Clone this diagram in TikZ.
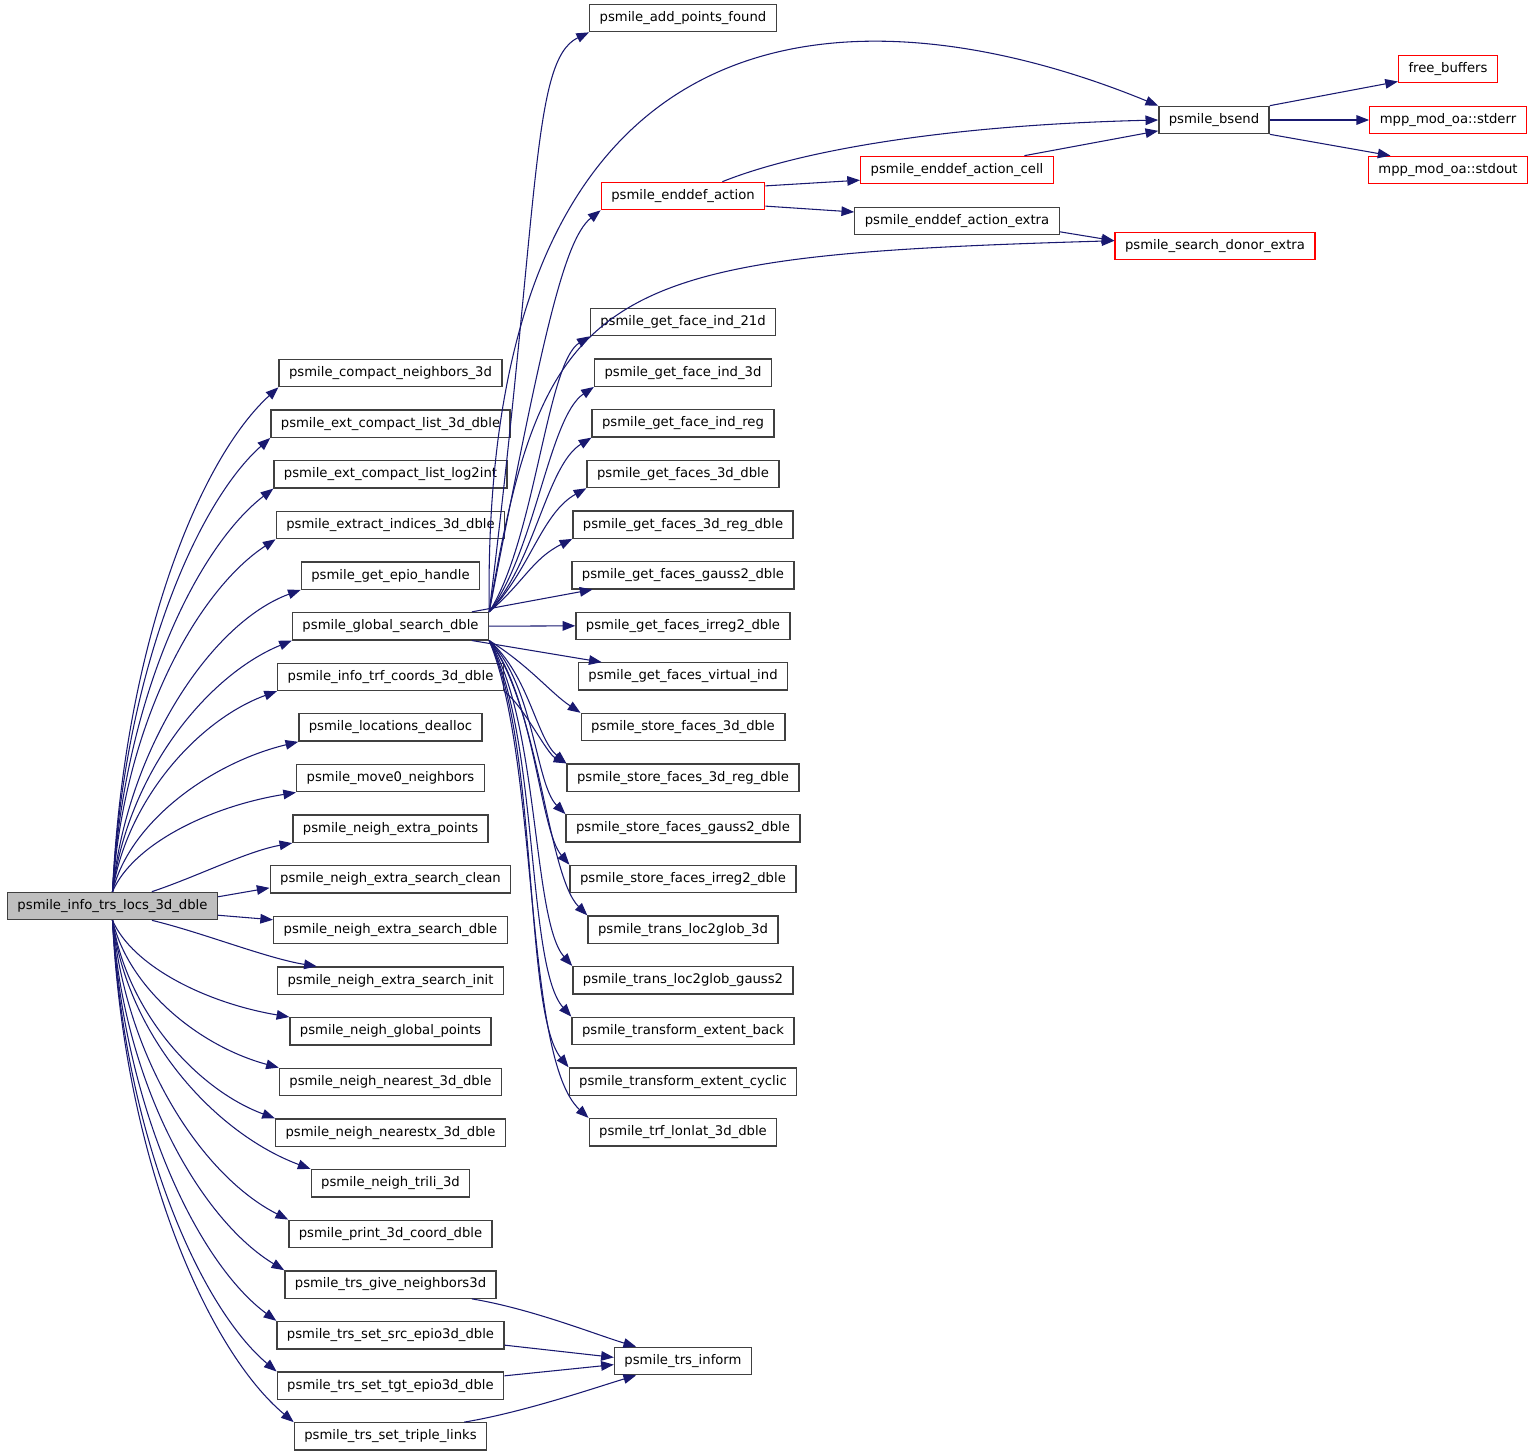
\documentclass[tikz,border=0pt]{standalone}
\usepackage{fontspec}
\setmainfont{DejaVu Sans}
\usetikzlibrary{arrows.meta}
\definecolor{callblue}{HTML}{191970}
\definecolor{rootgray}{HTML}{BFBFBF}
\definecolor{boxgray}{HTML}{404040}

\begin{document}
\begin{tikzpicture}[x=0.75pt,y=-0.75pt,
	fn/.style={draw=boxgray, line width=1pt, fill=white, inner xsep=7.5pt, inner ysep=0pt, minimum height=20.5pt, font=\fontsize{9.9pt}{12pt}\selectfont},
	ext/.style={fn, draw=red},
	call/.style={draw=callblue, line width=0.8pt, -{Triangle[length=9.5pt,width=7.2pt]}}]
	\useasboundingbox (0,0) rectangle (1536,1456);
	\node[fn, fill=rootgray] (root) at (112.5,906) {psmile\_info\_trs\_locs\_3d\_dble};
	% first column of callees
	\foreach \nm/\txt [count=\k from 0] in {cmpn/psmile\_compact\_neighbors\_3d, ecl3/psmile\_ext\_compact\_list\_3d\_dble,
		ecll/psmile\_ext\_compact\_list\_log2int, xind/psmile\_extract\_indices\_3d\_dble, epio/psmile\_get\_epio\_handle,
		gsd/psmile\_global\_search\_dble, itrf/psmile\_info\_trf\_coords\_3d\_dble, ldea/psmile\_locations\_dealloc,
		mvn/psmile\_move0\_neighbors, nxp/psmile\_neigh\_extra\_points, nxc/psmile\_neigh\_extra\_search\_clean,
		nxd/psmile\_neigh\_extra\_search\_dble, nxi/psmile\_neigh\_extra\_search\_init, ngp/psmile\_neigh\_global\_points,
		nn3/psmile\_neigh\_nearest\_3d\_dble, nnx/psmile\_neigh\_nearestx\_3d\_dble, ntri/psmile\_neigh\_trili\_3d,
		p3d/psmile\_print\_3d\_coord\_dble, tgn/psmile\_trs\_give\_neighbors3d, tsrc/psmile\_trs\_set\_src\_epio3d\_dble,
		ttgt/psmile\_trs\_set\_tgt\_epio3d\_dble, ttri/psmile\_trs\_set\_triple\_links}
		\node[fn] (\nm) at (390.5,373+50.64*\k) {\txt};
	% second column
	\node[fn] (apf) at (683,18) {psmile\_add\_points\_found};
	\node[ext] (eda) at (683,196) {psmile\_enddef\_action};
	\foreach \nm/\txt [count=\k from 0] in {fi21/psmile\_get\_face\_ind\_21d, fi3/psmile\_get\_face\_ind\_3d,
		fir/psmile\_get\_face\_ind\_reg, gf3/psmile\_get\_faces\_3d\_dble, gf3r/psmile\_get\_faces\_3d\_reg\_dble,
		gfg/psmile\_get\_faces\_gauss2\_dble, gfi/psmile\_get\_faces\_irreg2\_dble, gfv/psmile\_get\_faces\_virtual\_ind,
		sf3/psmile\_store\_faces\_3d\_dble, sf3r/psmile\_store\_faces\_3d\_reg\_dble, sfg/psmile\_store\_faces\_gauss2\_dble,
		sfi/psmile\_store\_faces\_irreg2\_dble, tl3/psmile\_trans\_loc2glob\_3d, tlg/psmile\_trans\_loc2glob\_gauss2,
		teb/psmile\_transform\_extent\_back, tec/psmile\_transform\_extent\_cyclic, tll/psmile\_trf\_lonlat\_3d\_dble}
		\node[fn] (\nm) at (683,322+50.64*\k) {\txt};
	\node[fn] (tinf) at (683,1361) {psmile\_trs\_inform};
	% right part
	\node[ext] (edac) at (957,170) {psmile\_enddef\_action\_cell};
	\node[fn] (edax) at (957,221) {psmile\_enddef\_action\_extra};
	\node[fn] (bsend) at (1214,120) {psmile\_bsend};
	\node[ext] (sdex) at (1215,246) {psmile\_search\_donor\_extra};
	\node[ext] (fbuf) at (1448,69) {free\_buffers};
	\node[ext] (oerr) at (1448,120) {mpp\_mod\_oa::stderr};
	\node[ext] (oout) at (1448,170) {mpp\_mod\_oa::stdout};
	% calls from the root
	\foreach \nm/\sa/\ea/\ax/\ay/\bx/\by in {cmpn/north/south west/12/-250/-78/71, ecl3/north/south west/12/-225/-72/64,
		ecll/north/south west/12/-200/-74/57, xind/north/south west/12/-175/-75/49, epio/north/south west/15/-145/-88/32,
		gsd/north/south west/15/-118/-85/35, itrf/north/south west/15/-94/-77/28, ldea/north/south west/17/-70/-87/21,
		mvn/north/south west/20/-47/-87/14, nxp/20/south west/45/-15/-45/8, nxi/-20/169/50/12/-50/-8,
		ngp/south/north west/20/46/-83/-14, nn3/south/north west/17/70/-78/-21, nnx/south/north west/15/94/-76/-28,
		ntri/south/north west/15/118/-94/-35, p3d/south/north west/15/145/-83/-42, tgn/south/north west/12/170/-81/-49,
		tsrc/south/north west/12/195/-76/-56, ttgt/south/north west/12/220/-75/-63, ttri/south/north west/12/245/-84/-70}
		\draw[call] (root.\sa) .. controls +(\ax,\ay) and +(\bx,\by) .. (\nm.\ea);
	\draw[call] (root.5) -- (nxc.184);
	\draw[call] (root.-5) -- (nxd.175);
	% calls from psmile_global_search_dble
	\foreach \nm/\sa/\ea/\ax/\ay/\bx/\by in {apf/north east/south west/51/-412/-58/28, bsend/north east/north west/-9/-662/-258/-106,
		eda/north east/south west/51/-262/-38/30, sdex/north east/177/56/-332/-513/15,
		fi21/north east/south west/46/-72/-43/27, fi3/north east/south west/46/-60/-45/30, fir/north east/south west/46/-50/-45/28,
		gf3/north east/south west/40/-40/-45/25, gf3r/north east/south west/35/-30/-40/20,
		sf3/south east/north west/40/25/-30/-20, sf3r/south east/north west/40/35/-30/-25, sfg/south east/north west/45/45/-30/-30,
		sfi/south east/north west/45/55/-30/-35, tl3/south east/north west/50/65/-40/-40, tlg/south east/north west/50/80/-40/-45,
		teb/south east/north west/50/95/-45/-50, tec/south east/north west/50/105/-45/-55, tll/south east/north west/50/120/-65/-60}
		\draw[call] (gsd.\sa) .. controls +(\ax,\ay) and +(\bx,\by) .. (\nm.\ea);
	\draw[call] (gsd.10) -- (gfg.189);
	\draw[call] (gsd.east) -- (gfi.west);
	\draw[call] (gsd.-10) -- (gfv.170);
	\draw[call] (itrf.south east) .. controls +(20,15) and +(-20,-10) .. (sf3r.north west);
	% enddef and send
	\draw[call] (eda.20) .. controls +(80,-32) and +(-208,5) .. (bsend.west);
	\draw[call] (eda.7) -- (edac.186);
	\draw[call] (eda.-7) -- (edax.175);
	\draw[call] (edac.12) -- (bsend.191);
	\draw[call] (edax.-6) -- (sdex.177);
	\draw[call] (bsend.north east) -- (fbuf.194);
	\draw[call] (bsend.east) -- (oerr.west);
	\draw[call] (bsend.south east) -- (oout.166);
	% trs callers
	\draw[call] (tgn.-10) .. controls +(60,10) and +(-40,-12) .. (tinf.163);
	\draw[call] (tsrc.-5) -- (tinf.177);
	\draw[call] (ttgt.5) -- (tinf.183);
	\draw[call] (ttri.11) .. controls +(60,-10) and +(-40,12) .. (tinf.197);
\end{tikzpicture}
\end{document}
